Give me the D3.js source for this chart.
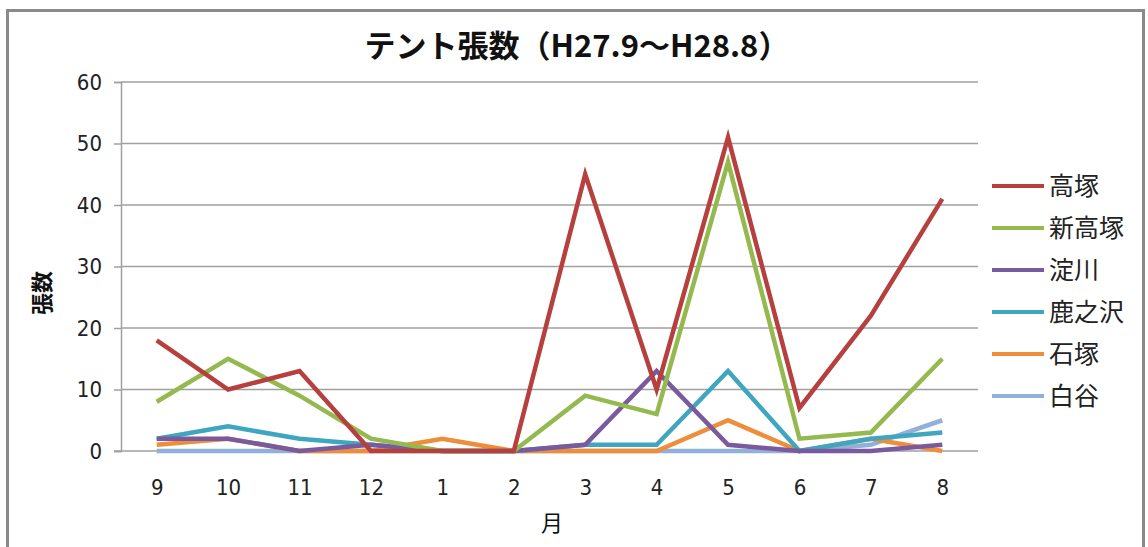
<!DOCTYPE html>
<html>
<head>
<meta charset="utf-8">
<script src="https://cdn.jsdelivr.net/npm/d3@7"></script>
<style>
  body { margin: 0; background: #fff; }
  text { font-family: "Noto Sans CJK JP", "Noto Sans", sans-serif; }
</style>
</head>
<body>
<div id="chart"></div>
<script>
var months = ["9","10","11","12","1","2","3","4","5","6","7","8"];
var names = ["高塚","新高塚","淀川","鹿之沢","石塚","白谷"];
var colors = ["#B5403E","#94B94F","#7A5A9E","#3FA6C0","#EE8E3A","#93B1D8"];
var takatsuka    = [18,10,13,0,0,0,45,10,51,7,22,41];
var shinTakatsuka= [8,15,9,2,0,0,9,6,47,2,3,15];
var yodogawa     = [2,2,0,1,0,0,1,13,1,0,0,1];
var shikanosawa  = [2,4,2,1,0,0,1,1,13,0,2,3];
var ishizuka     = [1,2,0,0,2,0,0,0,5,0,2,0];
var shiratani    = [0,0,0,0,0,0,0,0,0,0,1,5];
var series = [takatsuka, shinTakatsuka, yodogawa, shikanosawa, ishizuka, shiratani];
var yTicks = [0,10,20,30,40,50,60];

var W = 1148, H = 547;
var margin = {top: 82, right: 170, bottom: 96, left: 121};
var width = 978 - margin.left, height = 451 - margin.top;
var tickFont = "'Liberation Sans Narrow', 'DejaVu Sans Condensed', sans-serif";

var svg = d3.select("#chart").append("svg")
  .attr("width", W).attr("height", H);

// frame
svg.append("rect")
  .attr("x", 7.5).attr("y", 10.5).attr("width", 1136).attr("height", 560)
  .attr("fill", "none").attr("stroke", "#8a8a8a").attr("stroke-width", 3);

var g = svg.append("g")
  .attr("transform", "translate(" + margin.left + "," + margin.top + ")");

var x = d3.scalePoint().domain(months).range([0, width]).padding(0.5);
var y = d3.scaleLinear().domain([0, 60]).range([height, 0]);

// gridlines
g.append("g").selectAll("line").data(yTicks.slice(1)).enter()
  .append("line")
  .attr("x1", 0).attr("x2", width)
  .attr("y1", function(d){ return y(d); }).attr("y2", function(d){ return y(d); })
  .attr("stroke", "#a0a0a0").attr("stroke-width", 1.5);

// y axis
var yAxis = g.append("g")
  .call(d3.axisLeft(y).tickValues(yTicks).tickSize(7).tickPadding(12));
yAxis.select(".domain").attr("stroke", "#a0a0a0").attr("stroke-width", 1.5);
yAxis.selectAll(".tick line").attr("stroke", "#a0a0a0").attr("stroke-width", 1.5);
yAxis.selectAll("text").attr("font-size", "22px").attr("fill", "#222")
  .style("font-family", tickFont);

// x axis
var xAxis = g.append("g")
  .attr("transform", "translate(0," + height + ")")
  .call(d3.axisBottom(x).tickSize(0).tickPadding(28));
xAxis.select(".domain").attr("stroke", "#a0a0a0").attr("stroke-width", 1.5)
  .attr("d", "M-7,0H" + width);
xAxis.selectAll("text").attr("font-size", "22px").attr("fill", "#222")
  .style("font-family", tickFont);

// lines
var line = d3.line()
  .x(function(d, i){ return x(months[i]); })
  .y(function(d){ return y(d); });

for (var k = series.length - 1; k >= 0; k--) {
  g.append("path")
    .datum(series[k])
    .attr("fill", "none")
    .attr("stroke", colors[k])
    .attr("stroke-width", 4.5)
    .attr("stroke-linejoin", "miter")
    .attr("d", line);
}

// title
svg.append("text")
  .attr("x", 577).attr("y", 57)
  .attr("text-anchor", "middle")
  .attr("font-size", "31px").attr("font-weight", "bold").attr("fill", "#111")
  .text("テント張数（H27.9～H28.8）");

// axis titles
svg.append("text")
  .attr("transform", "translate(50,293) rotate(-90)")
  .attr("text-anchor", "middle")
  .attr("font-size", "22px").attr("font-weight", "bold").attr("fill", "#111")
  .text("張数");

svg.append("text")
  .attr("x", 552).attr("y", 531)
  .attr("text-anchor", "middle")
  .attr("font-size", "22px").attr("fill", "#111")
  .text("月");

// legend
var legend = svg.append("g").selectAll("g").data(names).enter()
  .append("g")
  .attr("transform", function(d, i){ return "translate(992," + (186 + 42 * i) + ")"; });
legend.append("line")
  .attr("x1", 0).attr("x2", 52).attr("y1", 0).attr("y2", 0)
  .attr("stroke", function(d, i){ return colors[i]; })
  .attr("stroke-width", 4);
legend.append("text")
  .attr("x", 57).attr("y", 0).attr("dy", "0.35em")
  .attr("font-size", "25px").attr("fill", "#222")
  .text(function(d){ return d; });
</script>
</body>
</html>
